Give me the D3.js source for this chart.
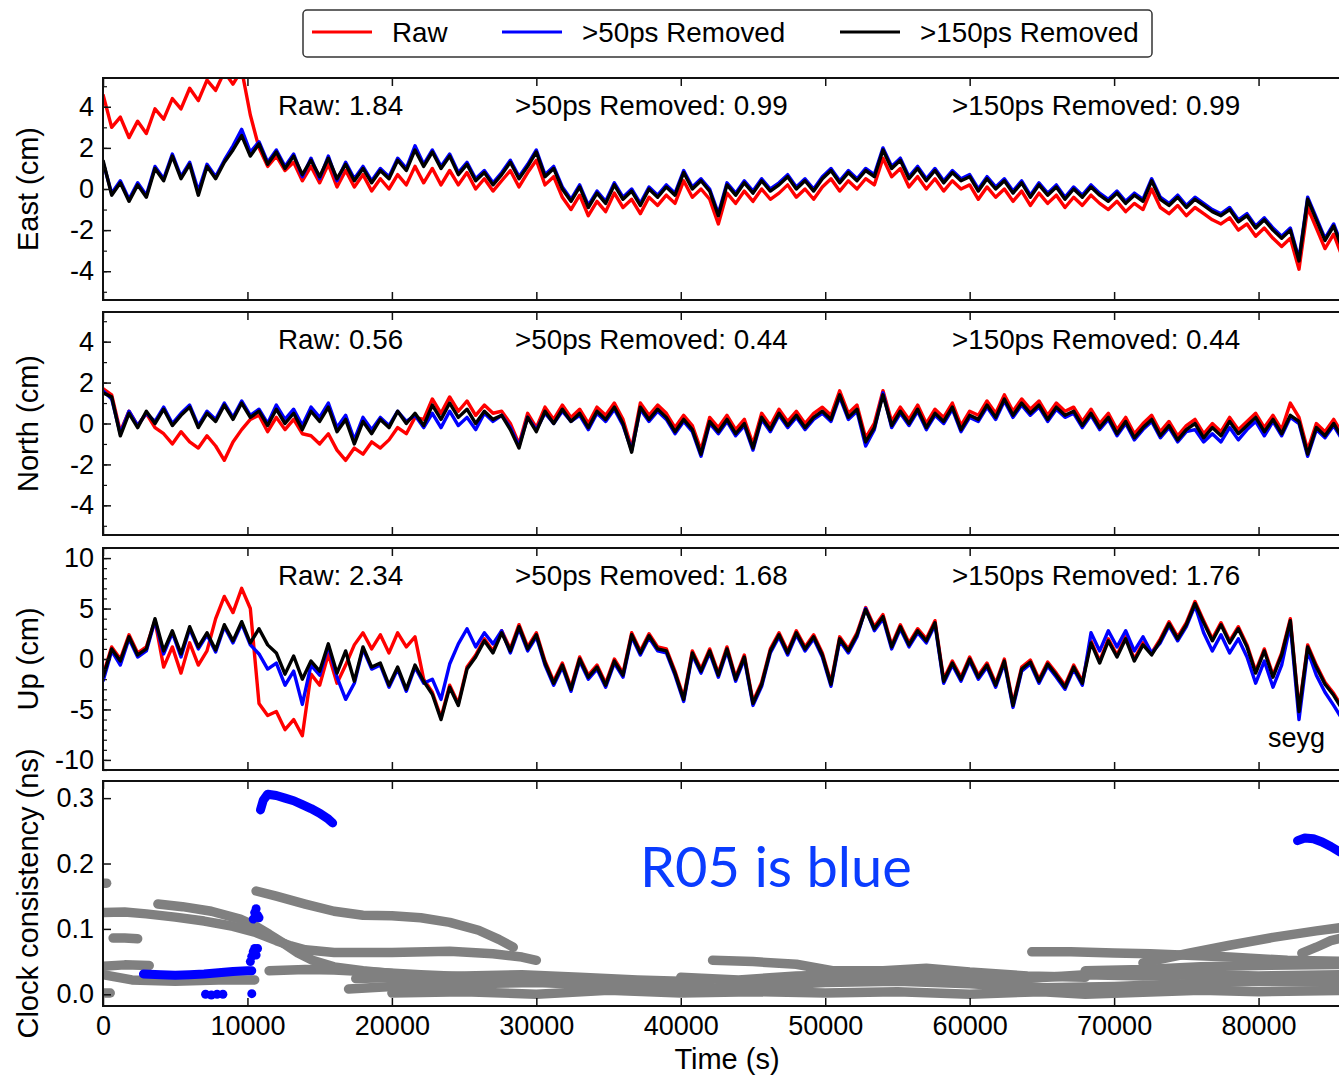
<!DOCTYPE html>
<html><head><meta charset="utf-8">
<script src="https://cdn.jsdelivr.net/npm/d3@7"></script>
<style>
body{margin:0;background:#fff;overflow:hidden}
svg{display:block}
</style>
</head><body>
<svg id="chart" width="1339" height="1075"></svg>
<script>
// ---------------- DATA ----------------
// samples every 600 s, from 0 to 86400 s
const sampleTimes = d3.range(0, 86401, 600);

const seriesNames = ["Raw", ">50ps Removed", ">150ps Removed"];
const seriesColors = ["#ff0000", "#0000ff", "#000000"];

const eastRaw = [4.6,3.0,3.5,2.5,3.3,2.7,3.9,3.4,4.4,3.9, 4.9,4.3,5.3,4.8,5.7,5.1,5.8,3.6,2.0,1.1, 1.6,0.9,1.3,0.4,1.1,0.3,1.2,0.1,0.9,0.1, 0.7,-0.1,0.5,0.0,0.7,0.2,1.1,0.3,1.0,0.2, 0.9,0.2,0.8,0.0,0.5,-0.1,0.4,0.9,0.1,0.8, 1.4,0.2,0.6,-0.4,-1.0,-0.3,-1.3,-0.6,-1.1,-0.2, -0.9,-0.5,-1.2,-0.4,-0.8,-0.3,-0.7,0.4,-0.4,0.0, -0.5,-1.7,-0.2,-0.7,-0.1,-0.6,0.0,-0.5,-0.2,0.2, -0.4,0.0,-0.5,0.1,0.5,-0.1,0.4,0.0,0.5,0.2, 1.5,0.6,1.0,0.1,0.6,0.0,0.5,-0.1,0.4,0.0, 0.2,-0.5,0.1,-0.4,0.0,-0.6,-0.1,-0.8,-0.2,-0.7, -0.3,-0.9,-0.4,-0.8,-0.3,-0.7,-1.0,-0.6,-1.1,-0.7, -1.0,0.0,-0.9,-1.2,-0.8,-1.3,-0.9,-1.2,-1.5,-1.7, -1.4,-2.0,-1.7,-2.3,-1.9,-2.4,-2.8,-2.4,-3.9,-0.9, -1.9,-2.9,-2.2,-3.3,-2.8];
const east50 = [1.3,-0.2,0.4,-0.5,0.3,-0.3,1.1,0.5,1.7,0.6, 1.3,-0.1,1.2,0.6,1.4,2.1,2.9,1.8,2.3,1.3, 1.9,1.1,1.7,0.6,1.5,0.5,1.6,0.4,1.3,0.5, 1.1,0.4,1.0,0.6,1.5,1.0,2.1,1.2,1.9,1.1, 1.7,0.8,1.3,0.5,0.9,0.3,0.8,1.4,0.6,1.2, 1.9,0.7,1.1,0.1,-0.5,0.2,-0.8,-0.1,-0.6,0.3, -0.4,0.0,-0.7,0.1,-0.3,0.2,-0.2,0.9,0.1,0.5, 0.0,-1.2,0.3,-0.2,0.4,-0.1,0.5,0.0,0.3,0.7, 0.1,0.5,0.0,0.6,1.0,0.4,0.9,0.5,1.0,0.7, 2.0,1.1,1.5,0.6,1.1,0.5,1.0,0.4,0.9,0.5, 0.7,0.0,0.6,0.1,0.5,-0.1,0.4,-0.3,0.3,-0.2, 0.2,-0.4,0.1,-0.3,0.2,-0.2,-0.5,-0.1,-0.6,-0.2, -0.5,0.5,-0.4,-0.7,-0.3,-0.8,-0.4,-0.7,-1.0,-1.2, -0.9,-1.5,-1.2,-1.8,-1.4,-1.9,-2.3,-1.9,-3.4,-0.4, -1.4,-2.4,-1.7,-2.8,-2.3];
const east150 = [1.4,-0.3,0.3,-0.6,0.2,-0.4,1.0,0.4,1.6,0.5, 1.2,-0.3,1.1,0.5,1.3,1.9,2.6,1.6,2.2,1.2, 1.8,1.0,1.6,0.7,1.4,0.6,1.5,0.5,1.2,0.4, 1.0,0.3,0.9,0.5,1.4,0.9,1.9,1.1,1.8,1.0, 1.6,0.7,1.2,0.4,0.8,0.2,0.7,1.3,0.5,1.1, 1.8,0.6,1.0,0.0,-0.6,0.1,-0.9,-0.2,-0.7,0.2, -0.5,-0.1,-0.8,0.0,-0.4,0.1,-0.3,0.8,0.0,0.4, -0.1,-1.3,0.2,-0.3,0.3,-0.2,0.4,-0.1,0.2,0.6, 0.0,0.4,-0.1,0.5,0.9,0.3,0.8,0.4,0.9,0.6, 1.9,1.0,1.4,0.5,1.0,0.4,0.9,0.3,0.8,0.4, 0.6,-0.1,0.5,0.0,0.4,-0.2,0.3,-0.4,0.2,-0.3, 0.1,-0.5,0.0,-0.4,0.1,-0.3,-0.6,-0.2,-0.7,-0.3, -0.6,0.4,-0.5,-0.8,-0.4,-0.9,-0.5,-0.8,-1.1,-1.3, -1.0,-1.6,-1.3,-1.9,-1.5,-2.0,-2.4,-2.0,-3.5,-0.5, -1.5,-2.5,-1.8,-2.9,-2.4];

const northRaw = [1.7,1.4,-0.4, 0.6,-0.1,0.5,-0.2,-0.5,-1.0,-0.4,-0.9,-1.2,-0.6, -1.1,-1.8,-0.9,-0.3,0.2,0.4, -0.4,0.3,-0.3,0.2,-0.5,-0.6,-1.0,-0.5, -1.3,-1.8,-1.2,-1.5,-0.9,-1.2, -0.8,-0.2,-0.5,0.3,0.2, 1.2,0.5,1.3,0.6,1.1,0.4,0.9,0.5, 0.6,0.0,-1.0,0.5,-0.2, 0.8,0.2,0.9,0.3,0.7,0.0,0.8,0.4,1.0, 0.2,-1.2, 1.0,0.4,0.9, 0.5,-0.2,0.4,-0.1,-1.3,0.3,-0.2, 0.4,-0.3,0.2,-1.0, 0.5,-0.1,0.7,0.1,0.6,0.0,0.5,0.8, 0.4,1.6,0.5,0.9, -0.7,0.0, 1.6, 0.1,0.8,0.2,0.9,0.0,0.7,0.3,1.0,-0.1,0.6,0.4, 1.1,0.5,1.4,0.6,1.2,0.7,1.1,0.4,1.0,0.6, 0.8,0.1,0.7,0.0,0.5, -0.3,0.3,-0.5,0.0,0.4,-0.4,0.1,-0.6,-0.1,0.2,-0.5, 0.0,-0.4,0.3,-0.3,0.1, 0.5,-0.2,0.4,-0.3,1.0,0.3, -1.3, 0.0,-0.4,0.2,-0.5,-0.2];
const north50 = [1.6,1.2,-0.5, 0.6,-0.1,0.5,0.1,0.8,0.0,0.5,0.9,-0.1,0.6, 0.2,1.0,0.3,1.1,0.4,0.7, 0.0,0.9,0.2,0.7,-0.1,0.8,0.3,1.0, -0.2,0.4,-0.8,0.3,-0.3,0.3, -0.1,0.6,0.1,0.4,-0.2, 0.5,-0.2,0.6,-0.1,0.3,-0.3,0.5,0.1, 0.4,-0.2,-1.1,0.3,-0.3, 0.5,0.0,0.6,0.1,0.4,-0.3,0.5,0.1,0.7, -0.1,-1.3, 0.7,0.1,0.6, 0.2,-0.5,0.1,-0.4,-1.6,0.0,-0.5, 0.1,-0.6,-0.1,-1.3, 0.2,-0.4,0.4,-0.2,0.3,-0.3,0.2,0.5, 0.1,1.3,0.2,0.6, -1.1,-0.3, 1.5, -0.2,0.5,-0.1,0.6,-0.3,0.4,0.0,0.7,-0.4,0.3,0.1, 0.8,0.2,1.1,0.3,0.9,0.4,0.8,0.1,0.7,0.3, 0.5,-0.2,0.4,-0.3,0.2, -0.6,0.0,-0.8,-0.3,0.1,-0.7,-0.2,-0.9,-0.4,-0.3,-0.9, -0.5,-0.9,-0.2,-0.8,-0.3, 0.1,-0.6,0.1,-0.6,0.3,0.0, -1.6, -0.3,-0.7,-0.1,-0.8,-0.5];
const north150 = [1.5,1.3,-0.6, 0.5,-0.2,0.6,0.0,0.7,-0.1,0.4,0.8,-0.2,0.5, 0.1,0.9,0.2,1.0,0.3,0.6, -0.1,0.7,0.0,0.5,-0.3,0.6,0.1,0.8, -0.4,0.2,-1.0,0.1,-0.5,0.2, -0.2,0.6,0.0,0.5,-0.1, 0.9,0.2,1.0,0.3,0.7,0.0,0.6,0.2, 0.4,-0.3,-1.2,0.3,-0.4, 0.6,0.0,0.7,0.1,0.5,-0.2,0.6,0.2,0.8, 0.0,-1.4, 0.8,0.2,0.7, 0.3,-0.4,0.2,-0.3,-1.5,0.1,-0.4, 0.2,-0.5,0.0,-1.2, 0.3,-0.3,0.5,-0.1,0.4,-0.2,0.3,0.6, 0.2,1.4,0.3,0.7, -0.9,-0.2, 1.4, -0.1,0.6,0.0,0.7,-0.2,0.5,0.1,0.8,-0.3,0.4,0.2, 0.9,0.3,1.2,0.4,1.0,0.5,0.9,0.2,0.8,0.4, 0.6,-0.1,0.5,-0.2,0.3, -0.5,0.1,-0.7,-0.2,0.2,-0.6,-0.1,-0.8,-0.3,0.0,-0.7, -0.2,-0.6,0.1,-0.5,-0.1, 0.3,-0.4,0.2,-0.5,0.4,0.1, -1.5, -0.2,-0.6,0.0,-0.7,-0.4];

const upRaw = [-1.6,1.2,0.0,2.4,0.6, 1.2,3.8,-0.8,1.2,-1.4,1.6,-0.6,0.8, 4.0,6.2,4.6,7.0,5.0, -4.4,-5.6, -5.2,-7.0,-6.0,-7.6,-1.5,-2.6, 0.5,-2.4,-0.6,1.4,2.6,1.0, 2.4,0.6,2.6,1.2,2.2,-2.0, -3.3,-5.8,-2.6,-4.4,-0.8, 0.4,2.0,0.8, 2.8,1.0,3.4,1.2,2.6, -0.2,-2.2,-0.4,-2.8,0.2,-1.6,-0.6,-2.4,0.0,-1.4, 2.6,0.8,2.5,1.2, 1.0,-1.2,-3.8,0.8,-1.0,1.0,-1.4, 1.2,-1.8,0.4, -4.2,-2.3, 1.0,2.6,0.8,2.8,1.2,2.4,0.6, -2.3, 2.2,1.0,2.6, 5.1,3.2,4.4, 1.4,3.4,1.6,3.0,2.0,3.8, -2.0, -0.2,-1.8,0.2,-1.6,-0.4,-2.4,0.0,-4.4,-0.8,-0.1,-2.0,-0.3,-1.4, -2.6,-0.6,-2.2, 1.8,-0.2,2.0,0.4,2.2,0.0,1.6,0.6,2.0, 3.7,2.2,3.6, 5.7, 3.8,2.0,3.6,1.8,3.2, 1.4,-1.2,1.0,-1.6,0.6, 4.0, -5.0, 1.4, -0.6,-2.3,-3.4,-4.8,-6.0];
const up50 = [-2.2,0.8,-0.6,2.0,0.2, 0.8,3.8,0.5,2.6,0.2,3.0,1.0,2.4, 0.7,3.2,1.6,3.5,1.4, 0.5,-1.0, -0.4,-2.6,-1.2,-4.5,-0.6,-1.6, 1.3,-1.8,-4.0,-2.4,1.0,-1.0, -0.6,-2.8,-1.0,-3.2,-0.8,-2.4, -2.0,-4.0,-0.5,1.5,3.0, 1.2,2.6,1.5, 2.8,0.6,3.0,0.8,2.2, -0.6,-2.6,-0.8,-3.2,-0.2,-2.0,-1.0,-2.8,-0.4,-1.8, 2.2,0.4,2.1,0.8, 0.6,-1.6,-4.2,0.4,-1.4,0.6,-1.8, 0.8,-2.2,0.0, -4.6,-2.7, 0.6,2.2,0.4,2.4,0.8,2.0,0.2, -2.7, 1.8,0.6,2.2, 5.0,2.8,4.0, 1.0,3.0,1.2,2.6,1.6,3.4, -2.4, -0.6,-2.2,-0.2,-2.0,-0.8,-2.8,-0.4,-4.8,-1.2,-0.5,-2.4,-0.7,-1.8, -3.0,-1.0,-2.6, 2.6,0.8,2.8,1.2,2.8,0.8,2.2,0.6,1.6, 3.3,1.8,3.2, 5.3, 2.6,0.8,2.4,0.6,2.0, 0.2,-2.4,-0.2,-2.8,-0.6, 3.4, -6.0, 0.8, -1.6,-3.3,-4.6,-6.0,-7.2];
const up150 = [-1.8,1.0,-0.2,2.2,0.4, 1.0,4.0,0.8,2.8,0.5,3.2,1.2,2.6, 0.9,3.4,1.8,3.7,1.6, 3.0,1.4, 0.6,-1.5,0.3,-2.0,-0.2,-1.2, 1.5,-1.4,0.8,-2.2,1.2,-0.8, -0.4,-2.6,-0.8,-3.0,-0.6,-2.2, -3.5,-6.0,-2.8,-4.6,-1.0, 0.2,1.8,0.6, 2.6,0.8,3.2,1.0,2.4, -0.4,-2.4,-0.6,-3.0,0.0,-1.8,-0.8,-2.6,-0.2,-1.6, 2.4,0.6,2.3,1.0, 0.8,-1.4,-4.0,0.6,-1.2,0.8,-1.6, 1.0,-2.0,0.2, -4.4,-2.5, 0.8,2.4,0.6,2.6,1.0,2.2,0.4, -2.5, 2.0,0.8,2.4, 4.9,3.0,4.2, 1.2,3.2,1.4,2.8,1.8,3.6, -2.2, -0.4,-2.0,0.0,-1.8,-0.6,-2.6,-0.2,-4.6,-1.0,-0.3,-2.2,-0.5,-1.6, -2.8,-0.8,-2.4, 1.6,-0.4,1.8,0.2,2.0,-0.2,1.4,0.4,1.8, 3.5,2.0,3.4, 5.5, 3.6,1.8,3.4,1.6,3.0, 1.2,-1.4,0.8,-1.8,0.4, 3.8, -5.2, 1.2, -0.8,-2.5,-3.6,-5.0,-6.2];

const eastStats = [1.84, 0.99, 0.99];
const northStats = [0.56, 0.44, 0.44];
const upStats = [2.34, 1.68, 1.76];

// clock consistency (ns): satellite tracks [time s, value ns]
const greyTracks = [
  [[0,0.170],[250,0.170]],
  [[0,0.125],[1500,0.126],[3000,0.123],[5000,0.118],[7000,0.112],[9000,0.104],[10500,0.095],[12000,0.082],[13000,0.074],[14000,0.068],[16000,0.064],[20000,0.064],[24000,0.066],[27000,0.062],[29000,0.057],[30000,0.052]],
  [[3800,0.138],[5500,0.134],[7500,0.127],[9500,0.115],[10500,0.105],[11500,0.092],[12500,0.078],[13500,0.063],[14500,0.052],[16000,0.042],[18000,0.036],[20000,0.032]],
  [[10600,0.158],[12000,0.150],[14000,0.138],[16000,0.127],[18000,0.121],[20000,0.120],[22000,0.117],[24000,0.110],[26000,0.098],[27400,0.084],[28400,0.072]],
  [[700,0.086],[1500,0.086],[2400,0.085]],
  [[0,0.043],[1500,0.045],[3200,0.044]],
  [[0,0.030],[2000,0.022],[5000,0.020],[8000,0.022],[10500,0.022]],
  [[0,0.002],[500,0.002]],
  [[11500,0.036],[14000,0.038],[16000,0.037],[18000,0.035],[22000,0.030],[26000,0.026],[30000,0.022],[34000,0.020],[38000,0.016],[42000,0.014]],
  [[17000,0.008],[20000,0.012],[25000,0.016],[30000,0.018],[35000,0.014],[40000,0.008],[45000,0.012],[50000,0.018],[55000,0.020],[60000,0.016],[65000,0.010],[70000,0.012],[75000,0.016],[80000,0.020],[86400,0.018]],
  [[17500,0.024],[21000,0.026],[25000,0.028],[29000,0.030],[33000,0.026],[37000,0.022],[40000,0.020]],
  [[42200,0.052],[45000,0.050],[48000,0.046],[50500,0.036],[54000,0.036],[57000,0.040],[60000,0.034],[64000,0.028],[68000,0.026]],
  [[64300,0.065],[67000,0.065],[70000,0.063],[72500,0.062],[74600,0.060],[78000,0.057],[82000,0.052],[86400,0.050]],
  [[72000,0.048],[75000,0.062],[78000,0.075],[81000,0.087],[84000,0.097],[86400,0.104]],
  [[83000,0.063],[84000,0.072],[85000,0.082],[86400,0.090]],
  [[20000,0.002],[25000,0.004],[30000,0.000],[35000,0.006],[40000,0.002],[45000,0.004],[50000,0.002],[55000,0.004],[60000,0.000],[65000,0.004],[68000,0.000],[72000,0.003],[76000,0.006],[80000,0.004],[86400,0.006]],
  [[68000,0.036],[72000,0.038],[76000,0.042],[80000,0.044],[86400,0.046]],
  [[40000,0.026],[44000,0.022],[48000,0.028],[52000,0.030],[56000,0.030],[60000,0.026],[64000,0.024],[68000,0.030],[72000,0.028],[76000,0.030],[80000,0.028],[86400,0.030]]
];
const r05Tracks = [
  [[2800,0.031],[4000,0.030],[5000,0.029],[6000,0.030],[7000,0.031],[8000,0.033],[9000,0.035],[10000,0.036],[10300,0.036]],
  [[10900,0.282],[11100,0.297],[11400,0.306],[12000,0.304],[12600,0.300],[13200,0.296],[13800,0.290],[14400,0.284],[15000,0.277],[15600,0.268],[15900,0.262]],
  [[82700,0.235],[83200,0.239],[83800,0.238],[84400,0.233],[85000,0.226],[85600,0.218],[86400,0.210]]
];
const r05Points = [[7100,0.0],[7500,-0.001],[7900,0.0],[8300,0.0],[10300,0.001],[10200,0.050],[10300,0.058],[10400,0.065],[10500,0.070],[10600,0.060],[10700,0.070],[10400,0.115],[10500,0.125],[10600,0.131],[10700,0.121],[10800,0.117]];

const xTickValues = [0,10000,20000,30000,40000,50000,60000,70000,80000];
const stationName = "seyg";
const noteText = "R05 is blue";

// ---------------- DRAW ----------------
const FONT = '"Liberation Sans", Arial, Helvetica, sans-serif';
const svg = d3.select("#chart").style("font-family", FONT);
const x = d3.scaleLinear().domain([0, 86400]).range([103, 1351]);
const L = 103, R = 1351;

const panels = [
  {id:"e", top:78, bottom:300, domain:[-5.4,5.4], major:[-4,-2,0,2,4], minor:d3.range(-5,6,1), label:"East (cm)", series:[eastRaw,east50,east150], stats:eastStats, fmt:d=>String(d)},
  {id:"n", top:312, bottom:535, domain:[-5.45,5.45], major:[-4,-2,0,2,4], minor:d3.range(-5,6,1), label:"North (cm)", series:[northRaw,north50,north150], stats:northStats, fmt:d=>String(d)},
  {id:"u", top:548, bottom:770, domain:[-11,11], major:[-10,-5,0,5,10], minor:d3.range(-11,12,1), label:"Up (cm)", series:[upRaw,up50,up150], stats:upStats, fmt:d=>String(d)},
  {id:"c", top:781, bottom:1006, domain:[-0.0179,0.3262], major:[0,0.1,0.2,0.3], minor:[], label:"Clock consistency (ns)", fmt:d=>d.toFixed(1)}
];

const defs = svg.append("defs");

panels.forEach((p, pi) => {
  const y = d3.scaleLinear().domain(p.domain).range([p.bottom, p.top]);
  defs.append("clipPath").attr("id", "clip-" + p.id)
    .append("rect").attr("x", L).attr("y", p.top).attr("width", R - L).attr("height", p.bottom - p.top);
  const g = svg.append("g");
  const plot = g.append("g").attr("clip-path", `url(#clip-${p.id})`);

  if (p.series) {
    const line = d3.line().x((d, i) => x(sampleTimes[i])).y(d => y(d));
    p.series.forEach((s, si) => {
      plot.append("path").datum(s).attr("d", line)
        .attr("fill", "none").attr("stroke", seriesColors[si])
        .attr("stroke-width", 3.4).attr("stroke-linejoin", "round");
    });
    const statX = [278, 515, 952];
    p.stats.forEach((v, si) => {
      g.append("text").attr("x", statX[si]).attr("y", p.top + 37)
        .attr("font-size", 27.8).attr("fill", "#000").text(`${seriesNames[si]}: ${v.toFixed(2)}`);
    });
  } else {
    const tl = d3.line().x(d => x(d[0])).y(d => y(d[1]));
    greyTracks.forEach(t => {
      plot.append("path").datum(t).attr("d", tl).attr("fill", "none")
        .attr("stroke", "#808080").attr("stroke-width", 9.5).attr("stroke-linecap", "round").attr("stroke-linejoin", "round");
    });
    r05Tracks.forEach(t => {
      plot.append("path").datum(t).attr("d", tl).attr("fill", "none")
        .attr("stroke", "#0000ff").attr("stroke-width", 9).attr("stroke-linecap", "round").attr("stroke-linejoin", "round");
    });
    plot.selectAll("circle.r05").data(r05Points).enter().append("circle")
      .attr("cx", d => x(d[0])).attr("cy", d => y(d[1])).attr("r", 4.5).attr("fill", "#0000ff");
  }

  g.append("rect").attr("x", L).attr("y", p.top).attr("width", R - L).attr("height", p.bottom - p.top)
    .attr("fill", "none").attr("stroke", "#111").attr("stroke-width", 2);

  const ya = g.append("g").attr("transform", `translate(${L},0)`)
    .call(d3.axisLeft(y).tickValues(p.major).tickSize(-8).tickPadding(9).tickFormat(p.fmt));
  ya.select(".domain").remove();
  ya.attr("font-family", FONT).attr("font-size", 27);
  ya.selectAll("text").attr("fill", "#000");
  ya.selectAll("line").attr("stroke", "#111").attr("stroke-width", 1.5);
  if (p.minor.length) {
    const ym = g.append("g").attr("transform", `translate(${L},0)`)
      .call(d3.axisLeft(y).tickValues(p.minor).tickSize(-4).tickFormat(""));
    ym.select(".domain").remove();
    ym.selectAll("line").attr("stroke", "#111").attr("stroke-width", 1.2);
  }
  const xb = g.append("g").attr("transform", `translate(0,${p.bottom})`)
    .call(d3.axisBottom(x).tickValues(xTickValues).tickSize(-8).tickPadding(10)
      .tickFormat(pi === panels.length - 1 ? d => String(d) : ""));
  xb.select(".domain").remove();
  xb.attr("font-family", FONT).attr("font-size", 27);
  xb.selectAll("line").attr("stroke", "#111").attr("stroke-width", 1.5);
  xb.selectAll("text").attr("fill", "#000");
  const xt = g.append("g").attr("transform", `translate(0,${p.top})`)
    .call(d3.axisTop(x).tickValues(xTickValues).tickSize(-8).tickFormat(""));
  xt.select(".domain").remove();
  xt.selectAll("line").attr("stroke", "#111").attr("stroke-width", 1.5);

  svg.append("text").attr("transform", `translate(38,${(p.top + p.bottom) / 2}) rotate(-90)`)
    .attr("text-anchor", "middle").attr("font-size", 29).attr("fill", "#000").text(p.label);

  if (p.id === "u") {
    g.append("text").attr("x", 1268).attr("y", 747).attr("font-size", 27).attr("fill", "#000").text(stationName);
  }
  if (p.id === "c") {
    g.append("text").attr("x", 640).attr("y", 887).attr("font-size", 56)
      .style("font-family", "Lato, 'Open Sans', sans-serif").attr("fill", "#0a3cff")
      .text(noteText);
  }
});

svg.append("text").attr("x", 727).attr("y", 1069).attr("text-anchor", "middle").attr("font-size", 29).attr("fill", "#000").text("Time (s)");

const lg = svg.append("g");
lg.append("rect").attr("x", 303).attr("y", 10).attr("width", 849).attr("height", 47).attr("rx", 4)
  .attr("fill", "#fff").attr("stroke", "#333").attr("stroke-width", 1.5);
const legX = [312, 502, 840];
seriesNames.forEach((n, i) => {
  lg.append("line").attr("x1", legX[i]).attr("x2", legX[i] + 60).attr("y1", 32).attr("y2", 32)
    .attr("stroke", seriesColors[i]).attr("stroke-width", 3);
  lg.append("text").attr("x", legX[i] + 80).attr("y", 42).attr("font-size", 27.8).attr("fill", "#000").text(n);
});
</script>
</body></html>
